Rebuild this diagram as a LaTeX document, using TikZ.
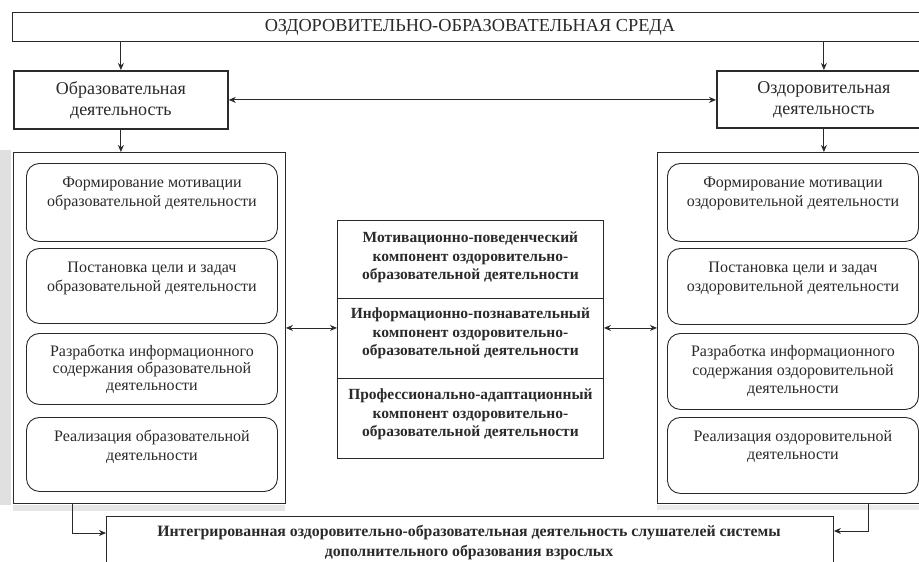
\documentclass[tikz,border=0pt]{standalone}
\usepackage{fontspec}
\setmainfont{Liberation Serif}
\usetikzlibrary{arrows.meta,calc}
\definecolor{ink}{HTML}{2A2A2A}
\tikzset{
  box/.style={draw=ink, line width=0.9pt, inner sep=0pt},
  thickbox/.style={draw=ink, line width=1.8pt, inner sep=0pt},
  rbox/.style={draw=ink, line width=0.9pt, rounded corners=13pt, inner sep=0pt},
  txt/.style={inner sep=0pt, align=center, text=ink, font=\fontsize{16}{18.5}\selectfont},
  btxt/.style={inner sep=0pt, align=center, text=ink, font=\fontsize{15.5}{18.5}\selectfont\bfseries},
  arr/.style={draw=ink, line width=0.9pt, -{Stealth[length=7pt,width=6pt]}},
  darr/.style={draw=ink, line width=0.9pt, {Stealth[length=7pt,width=6pt]}-{Stealth[length=7pt,width=6pt]}},
}
\begin{document}
\begin{tikzpicture}[x=1pt,y=-1pt]
\useasboundingbox (0,0) rectangle (919,562);
\clip (0,0) rectangle (919,562);
\fill[white] (0,0) rectangle (919,562);
% scan shading
\fill[black!12] (0,150) rectangle (11,505);
\fill[black!10] (13,505) rectangle (285,511);
\fill[black!8] (657,505) rectangle (919,510);

% top
\node[box, minimum width=918pt, minimum height=29pt, anchor=north west] (top) at (12,12) {};
\node[txt, font=\fontsize{18.3}{21}\selectfont] (toptxt) at (470,27) {ОЗДОРОВИТЕЛЬНО-ОБРАЗОВАТЕЛЬНАЯ СРЕДА};

% activity boxes
\node[thickbox, minimum width=214pt, minimum height=58pt, anchor=north west, txt, font=\fontsize{18}{21}\selectfont] (edu) at (13,70) {Образовательная\\деятельность};
\node[thickbox, minimum width=214pt, minimum height=57pt, anchor=north west, txt, font=\fontsize{18}{21}\selectfont] (hlt) at (716,70) {Оздоровительная\\деятельность};

% big boxes
\node[box, minimum width=272pt, minimum height=351pt, anchor=north west] (lbig) at (13,152) {};
\node[box, minimum width=272pt, minimum height=351pt, anchor=north west] (rbig) at (657,152) {};

% left inner boxes
\node[rbox, minimum width=251pt, minimum height=78pt, anchor=north west] (l1) at (26,163) {};
\node[rbox, minimum width=251pt, minimum height=75pt, anchor=north west] (l2) at (26,248) {};
\node[rbox, minimum width=251pt, minimum height=71pt, anchor=north west] (l3) at (26,333) {};
\node[rbox, minimum width=251pt, minimum height=74pt, anchor=north west] (l4) at (26,417) {};
\node[txt, anchor=north] (l1t) at ($(l1.north)+(0,14)$) {Формирование мотивации\\образовательной деятельности};
\node[txt, anchor=north] (l2t) at ($(l2.north)+(0,14)$) {Постановка цели и задач\\образовательной деятельности};
\node[txt, anchor=north, font=\fontsize{16}{17}\selectfont] (l3t) at ($(l3.north)+(0,12)$) {Разработка информационного\\содержания образовательной\\деятельности};
\node[txt, anchor=north] (l4t) at ($(l4.north)+(0,13)$) {Реализация образовательной\\деятельности};

% right inner boxes
\node[rbox, minimum width=251pt, minimum height=78pt, anchor=north west] (r1) at (667,163) {};
\node[rbox, minimum width=251pt, minimum height=76pt, anchor=north west] (r2) at (667,248) {};
\node[rbox, minimum width=251pt, minimum height=76pt, anchor=north west] (r3) at (667,333) {};
\node[rbox, minimum width=251pt, minimum height=76pt, anchor=north west] (r4) at (667,417) {};
\node[txt, anchor=north] (r1t) at ($(r1.north)+(0,14)$) {Формирование мотивации\\оздоровительной деятельности};
\node[txt, anchor=north] (r2t) at ($(r2.north)+(0,14)$) {Постановка цели и задач\\оздоровительной деятельности};
\node[txt, anchor=north] (r3t) at ($(r3.north)+(0,12)$) {Разработка информационного\\содержания оздоровительной\\деятельности};
\node[txt, anchor=north] (r4t) at ($(r4.north)+(0,13)$) {Реализация оздоровительной\\деятельности};

% center
\node[box, minimum width=266pt, minimum height=78pt, anchor=north west] (c1) at (337,220) {};
\node[box, minimum width=266pt, minimum height=80pt, anchor=north west] (c2) at (337,298) {};
\node[box, minimum width=266pt, minimum height=80pt, anchor=north west] (c3) at (337,378) {};
\node[btxt] (c1t) at ($(c1.center)+(0,-2)$) {Мотивационно-поведенческий\\компонент оздоровительно-\\образовательной деятельности};
\node[btxt] (c2t) at ($(c2.center)+(0,-5)$) {Информационно-познавательный\\компонент оздоровительно-\\образовательной деятельности};
\node[btxt] (c3t) at ($(c3.center)+(0,-4)$) {Профессионально-адаптационный\\компонент оздоровительно-\\образовательной деятельности};

% bottom
\node[box, minimum width=727pt, minimum height=60pt, anchor=north west] (bot) at (106,516) {};
\node[btxt, font=\fontsize{15.8}{19.5}\selectfont\bfseries, anchor=north] (bott) at (469,525) {Интегрированная оздоровительно-образовательная деятельность слушателей системы\\дополнительного образования взрослых};

% connectors
\draw[arr] (edu.north |- top.south) -- (edu.north);
\draw[arr] (hlt.north |- top.south) -- (hlt.north);
\draw[darr] (edu.east) -- (edu.east -| hlt.west);
\draw[arr] (edu.south) -- (edu.south |- lbig.north);
\draw[arr] (hlt.south) -- (hlt.south |- rbig.north);
\draw[darr] (lbig.east) -- (lbig.east -| c2.west);
\draw[darr] (rbig.west -| c2.east) -- (rbig.west);
\coordinate (lk) at (72,533);
\coordinate (rk) at (868,531);
\draw[arr] (lk |- lbig.south) -- (lk) -- (lk -| bot.west);
\draw[arr] (rk |- rbig.south) -- (rk) -- (rk -| bot.east);
\end{tikzpicture}
\end{document}
